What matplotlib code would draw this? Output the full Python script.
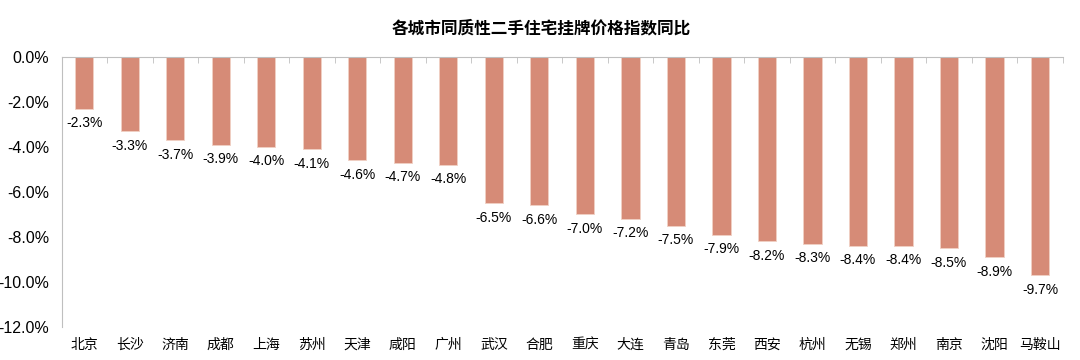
import numpy as np
import matplotlib
matplotlib.use("Agg")
import matplotlib.pyplot as plt
from matplotlib.ticker import FuncFormatter

plt.rcParams['font.family'] = ['Liberation Sans', 'Noto Sans CJK SC', 'DejaVu Sans']

cities = ["北京", "长沙", "济南", "成都", "上海", "苏州", "天津", "咸阳", "广州", "武汉", "合肥",
          "重庆", "大连", "青岛", "东莞", "西安", "杭州", "无锡", "郑州", "南京", "沈阳", "马鞍山"]
yoy = [-2.3, -3.3, -3.7, -3.9, -4.0, -4.1, -4.6, -4.7, -4.8, -6.5, -6.6,
       -7.0, -7.2, -7.5, -7.9, -8.2, -8.3, -8.4, -8.4, -8.5, -8.9, -9.7]
title = "各城市同质性二手住宅挂牌价格指数同比"

fig = plt.figure(figsize=(10.8, 3.6), dpi=100)
ax = fig.add_axes([0.057, 0.092, 0.927, 0.750])

x = np.arange(len(cities))
ax.bar(x, yoy, width=0.4, color="#D68B77", edgecolor="#F0D0C4", linewidth=0.6)

for xi, v in zip(x, yoy):
    ax.text(xi, v - 0.33, f"{v:.1f}%", ha="center", va="top", fontsize=10, color="#000000")

ax.set_xlim(-0.5, len(cities) - 0.5)
ax.set_ylim(-12, 0)
ax.set_yticks(np.arange(-12, 0.1, 2))
ax.yaxis.set_major_formatter(FuncFormatter(lambda v, p: f"{v:.1f}%"))
ax.tick_params(axis="y", length=0, labelsize=11.5, pad=9)

ax.set_xticks(x)
ax.set_xticklabels(cities, fontsize=10)
ax.tick_params(axis="x", which="major", length=0, pad=8)
ax.set_xticks(np.arange(-0.5, len(cities), 1)[1:], minor=True)
ax.tick_params(axis="x", which="minor", top=True, bottom=False, direction="in",
               length=4, color="#BFBFBF")

for s in ["right", "bottom"]:
    ax.spines[s].set_visible(False)
ax.spines["left"].set_color("#BFBFBF")
ax.spines["top"].set_color("#BFBFBF")

fig.text(0.501, 0.922, title, ha="center", va="center", fontsize=12, fontweight="bold")

fig.savefig("out.png", dpi=100)
